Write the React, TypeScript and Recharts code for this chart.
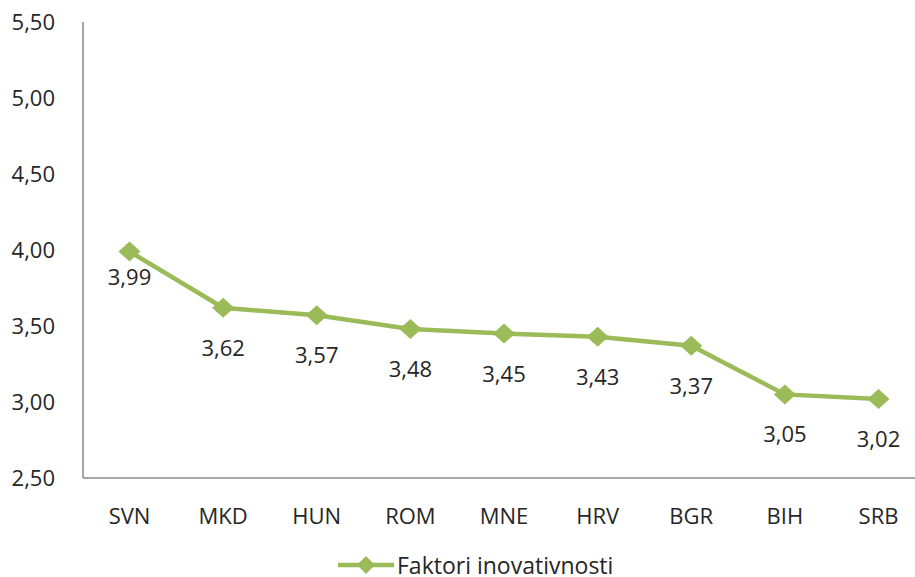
import React from "react";
import { LineChart, Line, XAxis, YAxis, Legend } from "recharts";

const categories = ["SVN", "MKD", "HUN", "ROM", "MNE", "HRV", "BGR", "BIH", "SRB"];
const values = [3.99, 3.62, 3.57, 3.48, 3.45, 3.43, 3.37, 3.05, 3.02];
const yTicks = [2.5, 3.0, 3.5, 4.0, 4.5, 5.0, 5.5];
const seriesName = "Faktori inovativnosti";

const data = categories.map((c, i) => ({ name: c, value: values[i] }));

const GREEN = "#9BBB59";
const FONT = "'Open Sans', 'Noto Sans', sans-serif";
const TEXT = "#262626";

const fmt = (v: number) => v.toFixed(2).replace(".", ",");

const Diamond = (props: any) => {
  const { cx, cy } = props;
  if (cx == null || cy == null) return null;
  const w = 11, h = 10;
  return (
    <polygon
      points={`${cx},${cy - h} ${cx + w},${cy} ${cx},${cy + h} ${cx - w},${cy}`}
      fill={GREEN}
    />
  );
};

const ValueLabel = (props: any) => {
  const { x, y, value, index } = props;
  const dy = index === 0 ? 24 : 39;
  return (
    <text
      x={x}
      y={y + dy}
      textAnchor="middle"
      dominantBaseline="central"
      fontSize={22}
      fontFamily={FONT}
      fill={TEXT}
    >
      {fmt(value)}
    </text>
  );
};

const LegendContent = () => (
  <div style={{ display: "flex", justifyContent: "flex-start", alignItems: "center", height: 24, paddingLeft: 338 }}>
    <svg width={58} height={24}>
      <line x1={0} y1={12} x2={56} y2={12} stroke={GREEN} strokeWidth={4.5} />
      <polygon points="28,3 37,12 28,21 19,12" fill={GREEN} />
    </svg>
    <span style={{ fontFamily: FONT, fontSize: 23, color: TEXT, marginLeft: 1, lineHeight: "24px" }}>
      {seriesName}
    </span>
  </div>
);

export default function App() {
  return (
    <div style={{ position: "absolute", left: 0, top: 0, width: 915, height: 577, overflow: "hidden", background: "#fff" }}>
      <LineChart
        width={925}
        height={577}
        data={data}
        margin={{ top: 22, right: 0, bottom: 0, left: 0 }}
      >
        <XAxis
          dataKey="name"
          tickLine={false}
          axisLine={{ stroke: "#898989", strokeWidth: 1.5 }}
          height={75}
          tickMargin={24}
          padding={{ left: 46.5, right: 46.5 }}
          tick={{ fontSize: 22, fontFamily: FONT, fill: TEXT }}
          interval={0}
        />
        <YAxis
          domain={[2.5, 5.5]}
          ticks={yTicks}
          width={83}
          tickLine={false}
          axisLine={{ stroke: "#898989", strokeWidth: 1.5 }}
          tickFormatter={fmt}
          tickMargin={22}
          tick={{ fontSize: 22, fontFamily: FONT, fill: TEXT }}
        />
        <Legend verticalAlign="bottom" height={24} content={<LegendContent />} />
        <Line
          type="linear"
          dataKey="value"
          name={seriesName}
          stroke={GREEN}
          strokeWidth={4.5}
          dot={<Diamond />}
          activeDot={false}
          isAnimationActive={false}
          label={<ValueLabel />}
        />
      </LineChart>
    </div>
  );
}
